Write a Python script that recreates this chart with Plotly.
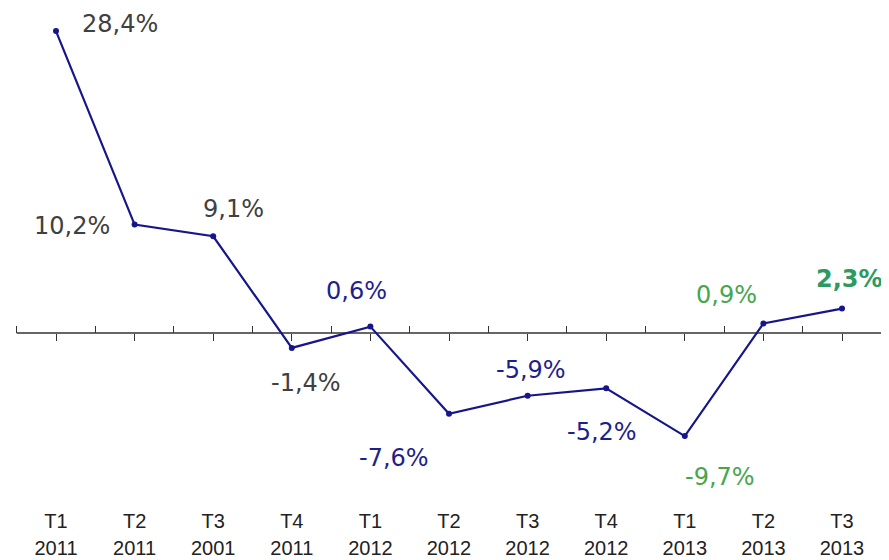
import plotly.graph_objects as go

# ---- data ----
quarters = ["T1", "T2", "T3", "T4", "T1", "T2", "T3", "T4", "T1", "T2", "T3"]
years = ["2011", "2011", "2001", "2011", "2012", "2012", "2012", "2012", "2013", "2013", "2013"]
growth = [28.4, 10.2, 9.1, -1.4, 0.6, -7.6, -5.9, -5.2, -9.7, 0.9, 2.3]
value_labels = ["28,4%", "10,2%", "9,1%", "-1,4%", "0,6%", "-7,6%", "-5,9%", "-5,2%", "-9,7%", "0,9%", "2,3%"]

# ---- styling ----
GRAY = "#404040"
NAVY = "#1f1f8c"
GREEN = "#47a64c"
GREEN_B = "#2f9a5f"
label_colors = [GRAY, GRAY, GRAY, GRAY, NAVY, NAVY, NAVY, NAVY, GREEN, GREEN, GREEN_B]
label_bold = [False] * 10 + [True]
# pixel offsets of each label relative to its point (x right, y up)
label_dx = [64, -63, 20, 14, -14, -55, 3, -4, 35, -37, 7]
label_dy = [7, -1, 27, -35, 36, -44, 26, -44, -41, 28, 30]

PAGE_OFF = 8  # default body margin of the html page
W, H = 889 - PAGE_OFF, 560 - PAGE_OFF
M_T, M_L, M_R = 0, 0, 0
PLOT_BOTTOM = 507 - PAGE_OFF
M_B = H - PLOT_BOTTOM
ZERO_PX = 333.0 - PAGE_OFF
PX_PER_UNIT = 10.63
plot_h = H - M_T - M_B
ymax = (ZERO_PX - M_T) / PX_PER_UNIT
ymin = -(M_T + plot_h - ZERO_PX) / PX_PER_UNIT
x_unit = 78.6
first_px = 56.0 - PAGE_OFF
x_left = -first_px / x_unit
x_right = x_left + W / x_unit

xs = list(range(len(growth)))

fig = go.Figure()
fig.add_trace(go.Scatter(
    x=xs, y=growth, mode="lines+markers",
    line=dict(color="#16168a", width=2.2),
    marker=dict(color="#16168a", size=6, symbol="circle"),
    hoverinfo="skip", showlegend=False,
))

for i, (x, y) in enumerate(zip(xs, growth)):
    txt = value_labels[i]
    if label_bold[i]:
        txt = f"<b>{txt}</b>"
    fig.add_annotation(
        x=x, y=y, xref="x", yref="y", text=txt, showarrow=False,
        xshift=label_dx[i], yshift=label_dy[i],
        font=dict(family="DejaVu Sans", size=24, color=label_colors[i]),
    )

zero_pos = (0 - ymin) / (ymax - ymin)
tickfont = dict(family="Liberation Sans", size=20, color="#222222")

fig.update_layout(
    width=W, height=H,
    margin=dict(t=M_T, b=M_B, l=M_L, r=M_R, pad=0, autoexpand=False),
    paper_bgcolor="white", plot_bgcolor="white",
    xaxis=dict(
        range=[x_left, x_right], tickmode="array", tickvals=xs, ticktext=quarters,
        showgrid=False, zeroline=False, showline=False, ticks="", automargin=False,
        tickfont=tickfont, fixedrange=True,
    ),
    xaxis3=dict(
        overlaying="x", anchor="y", side="bottom",
        range=[x_left, x_right], tickmode="array", tickvals=xs, ticktext=years,
        showgrid=False, zeroline=False, showline=False, ticks="", automargin=False,
        tickfont=tickfont, ticklabelstandoff=27, fixedrange=True,
    ),
    xaxis2=dict(
        overlaying="x", anchor="free", position=zero_pos, side="bottom",
        range=[x_left, x_right], tickmode="array", tickvals=xs, automargin=False,
        showticklabels=False, showgrid=False, zeroline=False,
        showline=False, ticks="outside", ticklen=7, tickwidth=1.2, tickcolor="#333333",
        minor=dict(tickmode="array", tickvals=[v - 0.5 for v in xs] + [xs[-1] + 0.5],
                   ticks="inside", ticklen=7, tickwidth=1.2, tickcolor="#333333", showgrid=False),
    ),
    yaxis=dict(range=[ymin, ymax], visible=False, fixedrange=True, automargin=False),
    shapes=[dict(type="line", xref="x", yref="y", x0=-0.5, x1=10.5, y0=0, y1=0,
                 line=dict(color="#333333", width=1.3), layer="below")],
)
# invisible traces to activate the helper axes
fig.add_trace(go.Scatter(x=[xs[0]], y=[0], xaxis="x2", mode="markers",
                         marker=dict(opacity=0), hoverinfo="skip", showlegend=False))
fig.add_trace(go.Scatter(x=[xs[0]], y=[0], xaxis="x3", mode="markers",
                         marker=dict(opacity=0), hoverinfo="skip", showlegend=False))

fig.write_html("out.html")
